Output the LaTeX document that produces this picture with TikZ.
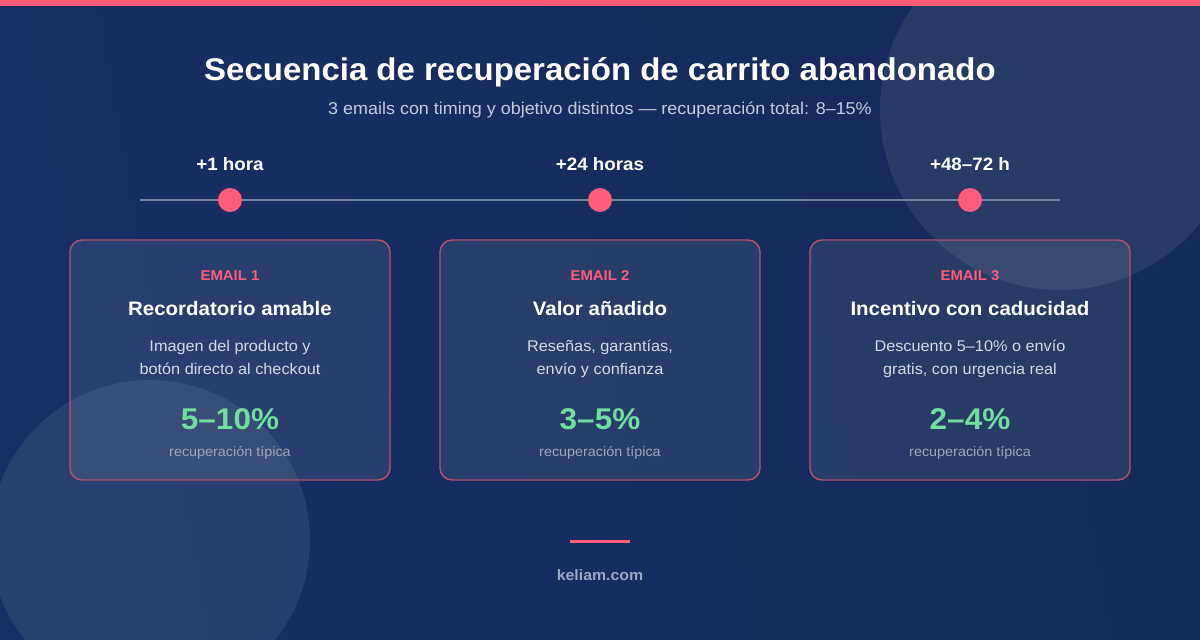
\documentclass[tikz,border=0pt]{standalone}
\usepackage{fontspec}
\setmainfont{Liberation Sans}[FakeStretch=1.05]
\definecolor{bgL}{HTML}{172F64}
\definecolor{bgM}{HTML}{1F3E79}
\definecolor{bgR}{HTML}{162A59}
\definecolor{pinkc}{HTML}{FF5C7A}
\definecolor{cardborder}{HTML}{B9506F}
\definecolor{greenc}{HTML}{70DE9C}
\definecolor{subc}{HTML}{C3CBDD}
\definecolor{descc}{HTML}{D3D9E6}
\definecolor{mutedc}{HTML}{9CA7C0}
\definecolor{linec}{HTML}{75839F}
\begin{document}
\begin{tikzpicture}[x=1pt,y=-1pt,
  card/.style={draw=cardborder, line width=1.4pt, rounded corners=12pt, fill=white, fill opacity=0.08, minimum width=320pt, minimum height=240pt, inner sep=0pt},
  dot/.style={circle, fill=pinkc, minimum size=24pt, inner sep=0pt},
  timelbl/.style={anchor=base, text=white, font=\fontsize{17.9}{22}\selectfont\bfseries, inner sep=0pt},
  emaillbl/.style={anchor=base, text=pinkc, font=\fontsize{14.2}{18}\selectfont\bfseries, inner sep=0pt},
  headlbl/.style={anchor=base, text=white, font=\fontsize{19.5}{23}\selectfont\bfseries, inner sep=0pt},
  desclbl/.style={anchor=base, text=descc, font=\fontsize{15.5}{23}\selectfont, align=center, inner sep=0pt},
  pctlbl/.style={anchor=base, text=greenc, font=\fontsize{30}{34}\selectfont\bfseries, inner sep=0pt},
  mutedlbl/.style={anchor=base, text=mutedc, font=\fontsize{13.7}{16}\selectfont, inner sep=0pt},
  deco/.style={fill=white, fill opacity=0.08}
]
\useasboundingbox (0,0) rectangle (1200,640);
\shade[left color=bgL, middle color=bgM, right color=bgR, shading angle=100] (0,0) rectangle (1200,640);
% decorative circles
\fill[deco] (1060,110) circle (180);
\fill[deco] (150,540) circle (160);
% top bar
\fill[pinkc] (0,0) rectangle (1200,6);
% title
\node[anchor=base, text=white, font=\fontsize{31.4}{36}\selectfont\bfseries, inner sep=0pt] (title) at (600,80) {Secuencia de recuperación de carrito abandonado};
\node[anchor=base, text=subc, font=\fontsize{17.1}{20}\selectfont, inner sep=0pt] (subtitle) at (600,114) {3 emails con timing y objetivo distintos — recuperación total: 8–15\%};
% timeline
\coordinate (tlA) at (140,200);
\coordinate (tlB) at (1060,200);
\draw[linec, line width=2pt] (tlA) -- (tlB);
\node[dot] (d1) at (230,200) {};
\node[dot] (d2) at (600,200) {};
\node[dot] (d3) at (970,200) {};
\node[timelbl] (t1) at (230,170) {+1 hora};
\node[timelbl] (t2) at (600,170) {+24 horas};
\node[timelbl] (t3) at (970,170) {+48–72 h};
% cards
\node[card] (c1) at (230,360) {};
\node[card] (c2) at (600,360) {};
\node[card] (c3) at (970,360) {};
% card 1
\node[emaillbl] (e1) at (230,280) {EMAIL 1};
\node[headlbl] (h1) at (230,315) {Recordatorio amable};
\node[desclbl] (p1a) at (230,351) {Imagen del producto y};
\node[desclbl] (p1b) at (230,374) {botón directo al checkout};
\node[pctlbl] (r1) at (230,429) {5–10\%};
\node[mutedlbl] (m1) at (230,456) {recuperación típica};
% card 2
\node[emaillbl] (e2) at (600,280) {EMAIL 2};
\node[headlbl] (h2) at (600,315) {Valor añadido};
\node[desclbl] (p2a) at (600,351) {Reseñas, garantías,};
\node[desclbl] (p2b) at (600,374) {envío y confianza};
\node[pctlbl] (r2) at (600,429) {3–5\%};
\node[mutedlbl] (m2) at (600,456) {recuperación típica};
% card 3
\node[emaillbl] (e3) at (970,280) {EMAIL 3};
\node[headlbl] (h3) at (970,315) {Incentivo con caducidad};
\node[desclbl] (p3a) at (970,351) {Descuento 5–10\% o envío};
\node[desclbl] (p3b) at (970,374) {gratis, con urgencia real};
\node[pctlbl] (r3) at (970,429) {2–4\%};
\node[mutedlbl] (m3) at (970,456) {recuperación típica};
% footer
\coordinate (fA) at (570,541.5);
\coordinate (fB) at (630,541.5);
\draw[pinkc, line width=3pt] (fA) -- (fB);
\node[anchor=base, text=mutedc, font=\fontsize{15.1}{18}\selectfont\bfseries, inner sep=0pt] (foot) at (600,580) {keliam.com};
\end{tikzpicture}
\end{document}
